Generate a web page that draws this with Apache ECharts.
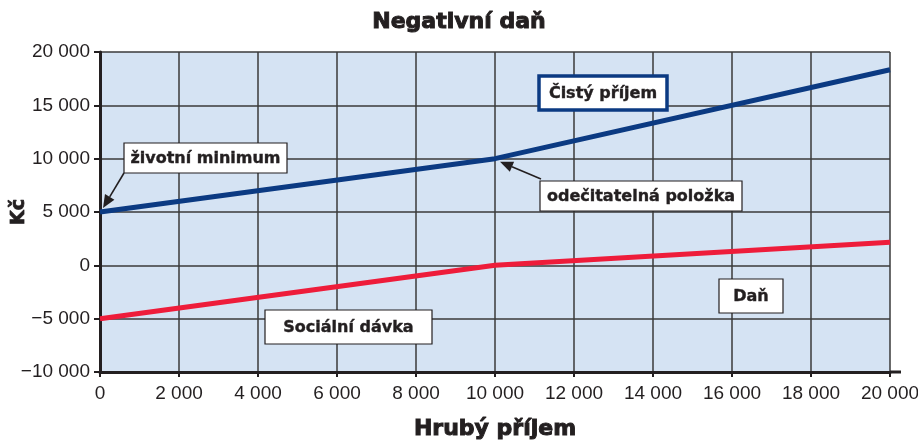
<!DOCTYPE html>
<html><head><meta charset="utf-8">
<script src="https://cdn.jsdelivr.net/npm/echarts@6/dist/echarts.min.js"></script>
<style>html,body{margin:0;padding:0;background:#fff}#c{width:918px;height:444px}</style>
</head><body><div id="c"></div>
<script>
// Data
const grossIncome = [0, 10000, 20000];
const netIncome = [5000, 10000, 18330];
const taxValues = [-5000, 0, 2170];
const xTicks = {min: 0, max: 20000, step: 2000};
const yTicks = {min: -10000, max: 20000, step: 5000};
const titleText = 'Negativní daň';
const xName = 'Hrubý příjem';
const yName = 'Kč';

function fmt(v) {
  const neg = v < 0;
  let s = Math.abs(v).toString().replace(/\B(?=(\d{3})+(?!\d))/g, ' ');
  return (neg ? '\u2212' : '') + s;
}

const chart = echarts.init(document.getElementById('c'), null, {renderer: 'canvas'});
const FONT = '"Liberation Sans", Arial, sans-serif';
const BFONT = '"DejaVu Sans", sans-serif';
const dark = '#231f20';
chart.setOption({
  animation: false,
  backgroundColor: '#ffffff',
  title: {
    text: titleText, left: 'center', top: 6,
    textStyle: {fontFamily: BFONT, fontSize: 22, fontWeight: 'bold', color: dark,
      textBorderColor: dark, textBorderWidth: 1}
  },
  grid: {left: 100, right: 28, top: 52, bottom: 72, show: true, backgroundColor: '#d5e3f3', borderWidth: 0,
    containLabel: false, outerBoundsMode: 'none'},
  xAxis: {
    type: 'value', min: xTicks.min, max: xTicks.max, interval: xTicks.step,
    name: xName, nameLocation: 'middle', nameGap: 46, nameMoveOverlap: false,
    nameTextStyle: {fontFamily: BFONT, fontSize: 22, fontWeight: 'bold', color: dark, textBorderColor: dark, textBorderWidth: 1},
    axisLine: {onZero: false, lineStyle: {color: dark, width: 3}},
    axisTick: {show: true, length: 5, lineStyle: {color: dark, width: 2}},
    axisLabel: {formatter: fmt, fontFamily: FONT, fontSize: 19, color: dark, margin: 12},
    splitLine: {show: true, lineStyle: {color: '#3a3a3a', width: 1.5}}
  },
  yAxis: {
    type: 'value', min: yTicks.min, max: yTicks.max, interval: yTicks.step,
    name: yName, nameLocation: 'middle', nameGap: 71, nameRotate: 90, nameMoveOverlap: false,
    nameTextStyle: {fontFamily: BFONT, fontSize: 19, fontWeight: 'bold', color: dark, textBorderColor: dark, textBorderWidth: 0.8},
    axisLine: {onZero: false, lineStyle: {color: dark, width: 3}},
    axisTick: {show: true, length: 6, lineStyle: {color: dark, width: 2}},
    axisLabel: {formatter: fmt, fontFamily: FONT, fontSize: 19, color: dark, margin: 10},
    splitLine: {show: true, lineStyle: {color: '#3a3a3a', width: 1.5}}
  },
  series: [
    {type: 'line', name: 'Čistý příjem', data: grossIncome.map((x, i) => [x, netIncome[i]]),
      symbol: 'none', lineStyle: {color: '#0b3a82', width: 5}, z: 5},
    {type: 'line', name: 'Daň', data: grossIncome.map((x, i) => [x, taxValues[i]]),
      symbol: 'none', lineStyle: {color: '#ee1c3a', width: 5}, z: 5}
  ]
});

// Annotations
const pMin = chart.convertToPixel({gridIndex: 0}, [grossIncome[0], netIncome[0]]);
const pDed = chart.convertToPixel({gridIndex: 0}, [grossIncome[1], netIncome[1]]);
const xEnd = chart.convertToPixel({gridIndex: 0}, [xTicks.max, yTicks.min]);

function box(x, y, w, h, text, opts) {
  opts = opts || {};
  return {
    type: 'group', x: x, y: y, z: 20, children: [
      {type: 'rect', shape: {x: 0, y: 0, width: w, height: h},
        style: {fill: '#fff', stroke: opts.stroke || dark, lineWidth: opts.lw || 1.2}},
      {type: 'text', x: w / 2, y: h / 2 + 1, style: {text: text, fill: dark,
        stroke: dark, lineWidth: 0.4,
        font: 'bold ' + (opts.fs || 16) + 'px ' + BFONT, align: 'center', verticalAlign: 'middle'}}
    ]
  };
}
function arrow(x1, y1, x2, y2) {
  const ang = Math.atan2(y2 - y1, x2 - x1);
  const L = 13, W = 5.5;
  const bx = x2 - L * Math.cos(ang), by = y2 - L * Math.sin(ang);
  const px = -Math.sin(ang) * W, py = Math.cos(ang) * W;
  return [
    {type: 'line', z: 21, shape: {x1: x1, y1: y1, x2: bx, y2: by}, style: {stroke: dark, lineWidth: 1.6}},
    {type: 'polygon', z: 21, shape: {points: [[x2, y2], [bx + px, by + py], [bx - px, by - py]]}, style: {fill: dark}}
  ];
}

chart.setOption({
  graphic: [
    {type: 'line', z: 3, shape: {x1: xEnd[0], y1: xEnd[1], x2: xEnd[0] + 11, y2: xEnd[1]}, style: {stroke: dark, lineWidth: 3}},
    box(124, 143, 163, 30, 'životní minimum'),
    box(539, 76, 128, 34, 'Čistý příjem', {stroke: '#0b3a82', lw: 3.5, fs: 16}),
    box(540, 181, 202, 30, 'odečitatelná položka'),
    box(265, 310, 167, 34, 'Sociální dávka', {fs: 16}),
    box(719, 279, 64, 34, 'Daň', {fs: 16}),
    ...arrow(124, 173, pMin[0] + 3, pMin[1] - 4),
    ...arrow(541, 179, pDed[0] + 5, pDed[1] + 3)
  ]
});
</script></body></html>
